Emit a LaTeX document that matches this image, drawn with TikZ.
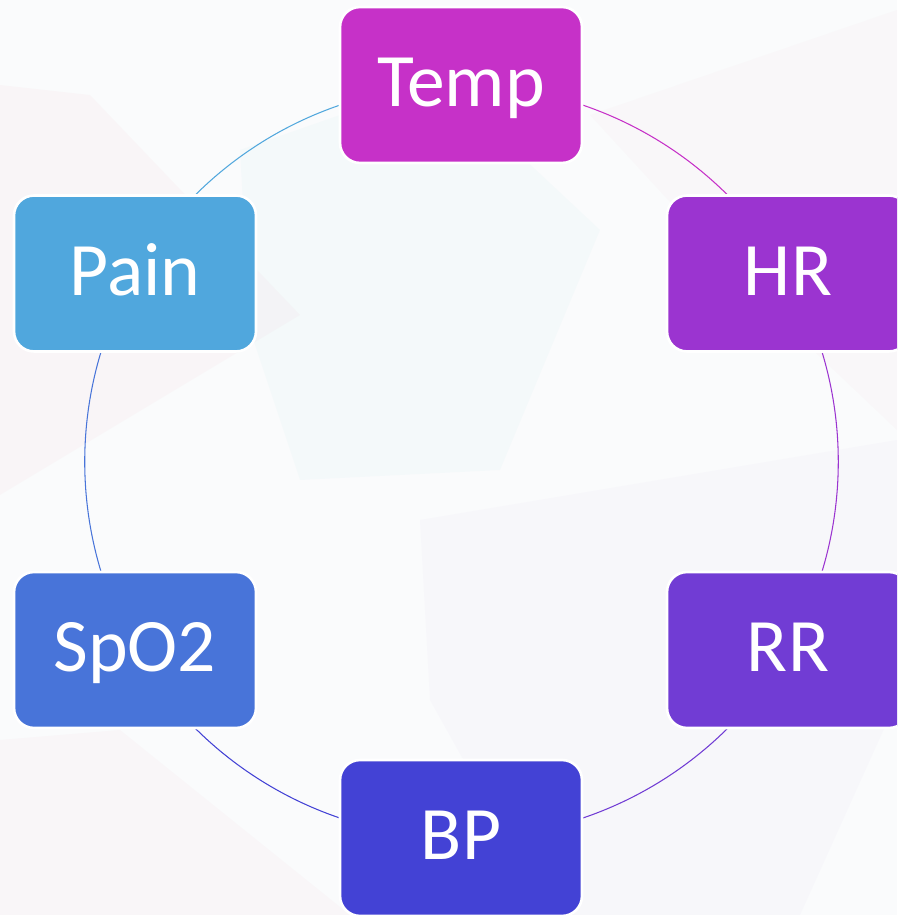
\documentclass[tikz,border=0pt]{standalone}
\usepackage{fontspec}
\setmainfont{Carlito}
\usetikzlibrary{backgrounds}
\pgfdeclarelayer{paper}
\pgfsetlayers{paper,background,main}

\definecolor{tempc}{HTML}{C631C8}
\definecolor{hrc}{HTML}{9B34D0}
\definecolor{rrc}{HTML}{713CD4}
\definecolor{bpc}{HTML}{4342D5}
\definecolor{spoc}{HTML}{4874D9}
\definecolor{painc}{HTML}{50A7DD}
\definecolor{paperc}{HTML}{FAFBFC}
\definecolor{blushc}{HTML}{F3B9C6}
\definecolor{mintc}{HTML}{BFE6EC}
\definecolor{lilacc}{HTML}{DCD0F0}

\begin{document}
\begin{tikzpicture}[x=0.02cm,y=0.02cm,
  vital/.style={rectangle,rounded corners=0.4cm,draw=white,line width=1.5pt,
    minimum width=4.84cm,minimum height=3.12cm,text=white,
    text height=25pt,text depth=0pt,font=\fontsize{43}{50}\selectfont},
  ring/.style={line width=0.6pt}]
  \useasboundingbox (0,0) rectangle (897,915);
  \clip (0,0) rectangle (897,915);
  % faint backdrop
  \begin{pgfonlayer}{paper}
    \fill[paperc] (0,0) rectangle (897,915);
    \fill[blushc,opacity=0.08] (0,830) -- (90,820) -- (300,600) -- (0,420) -- cycle;
    \fill[blushc,opacity=0.07] (0,175) -- (120,185) -- (350,0) -- (0,0) -- cycle;
    \fill[blushc,opacity=0.05] (590,800) -- (897,905) -- (897,485) -- (760,615) -- cycle;
    \fill[mintc,opacity=0.09] (240,765) -- (440,835) -- (600,685) -- (500,445) -- (300,435) -- (250,585) -- cycle;
    \fill[lilacc,opacity=0.09] (420,395) -- (897,475) -- (897,215) -- (800,0) -- (550,0) -- (430,215) -- cycle;
  \end{pgfonlayer}
  % vital signs
  \node[vital,fill=tempc] (temp) at (461,830) {Temp};
  \node[vital,fill=hrc]   (hr)   at (788,641.5) {HR};
  \node[vital,fill=rrc]   (rr)   at (788,265) {RR};
  \node[vital,fill=bpc]   (bp)   at (461,77) {BP};
  \node[vital,fill=spoc]  (spo)  at (135,265) {SpO2};
  \node[vital,fill=painc] (pain) at (135,641.5) {Pain};
  % cycle arcs
  \begin{pgfonlayer}{background}
    \draw[ring,tempc] (temp.center) to[bend left=30,looseness=0.913] (hr.center);
    \draw[ring,hrc]   (hr.center)   to[bend left=30,looseness=0.913] (rr.center);
    \draw[ring,rrc]   (rr.center)   to[bend left=30,looseness=0.913] (bp.center);
    \draw[ring,bpc]   (bp.center)   to[bend left=30,looseness=0.913] (spo.center);
    \draw[ring,spoc]  (spo.center)  to[bend left=30,looseness=0.913] (pain.center);
    \draw[ring,painc] (pain.center) to[bend left=30,looseness=0.913] (temp.center);
  \end{pgfonlayer}
\end{tikzpicture}
\end{document}
